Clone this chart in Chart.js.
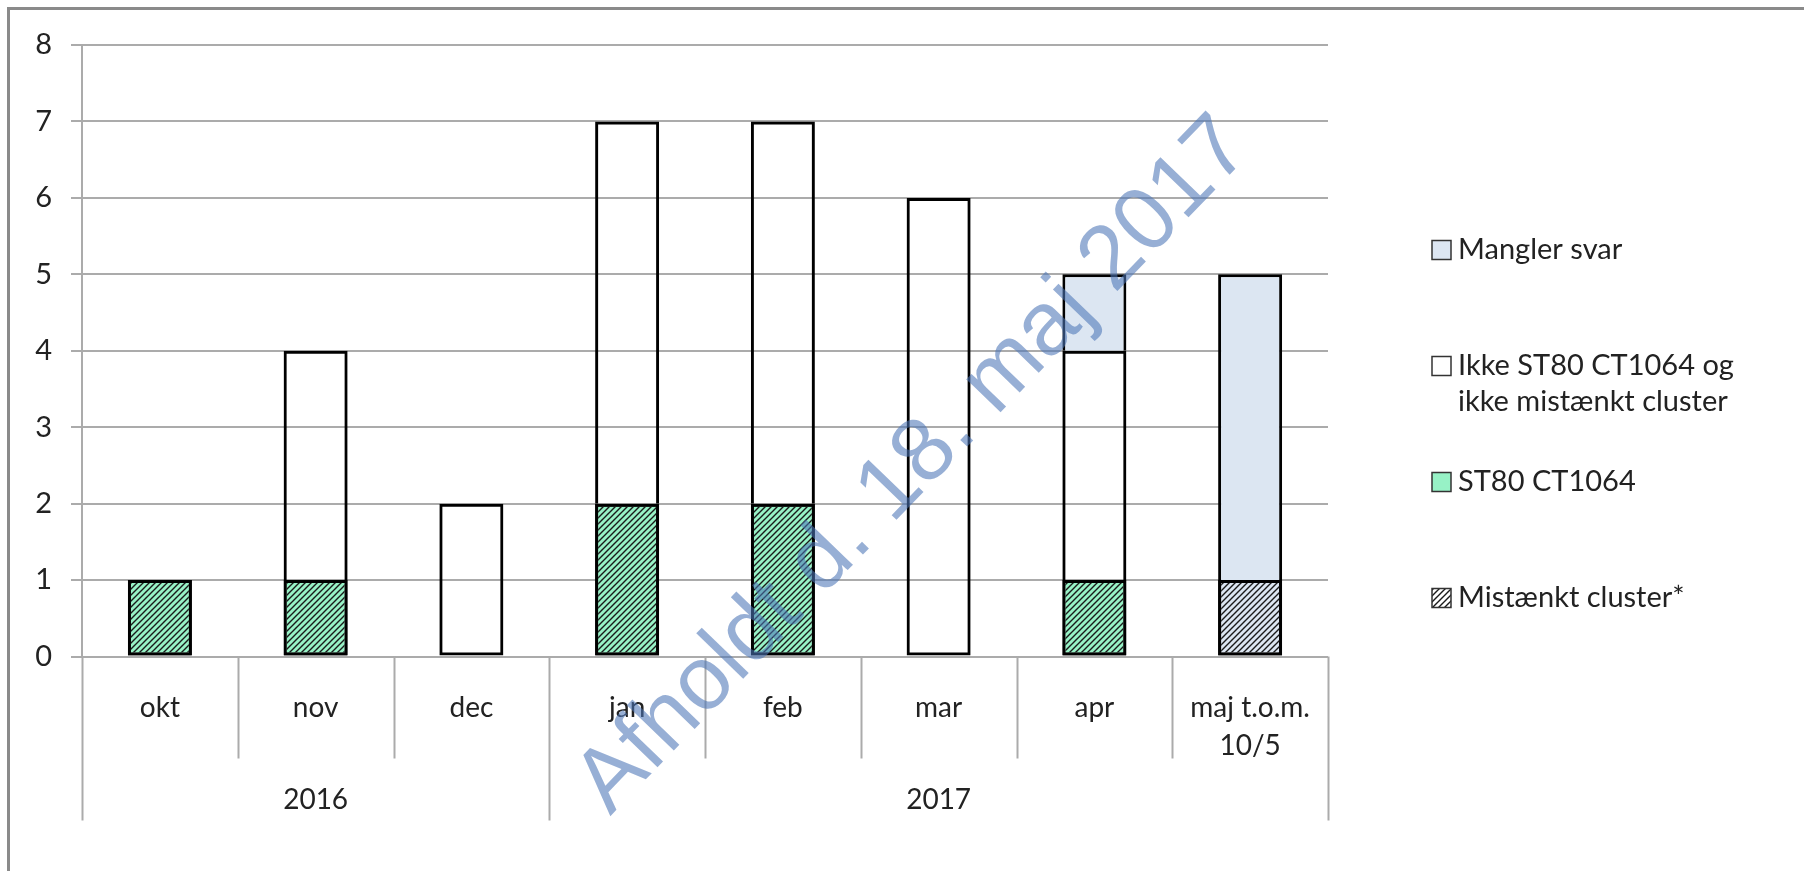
<!DOCTYPE html>
<html>
<head>
<meta charset="utf-8">
<script src="https://cdn.jsdelivr.net/npm/chart.js@4.4.0/dist/chart.umd.min.js"></script>
<style>
  html, body { margin: 0; padding: 0; background: #fff; overflow: hidden; }
  #wrap { width: 1804px; height: 871px; }
</style>
</head>
<body>
<div id="wrap"><canvas id="myChart"></canvas></div>
<script>
// categories
const months = ['okt', 'nov', 'dec', 'jan', 'feb', 'mar', 'apr', ['maj t.o.m.', '10/5']];
const years = ['2016', '2017'];
const monthsPerYear = [3, 5];

// series (antal pr. måned)
const st80 = [1, 1, 0, 2, 2, 0, 1, 0];
const ikkeSt80 = [0, 3, 2, 5, 5, 6, 3, 0];
const manglerSvar = [0, 0, 0, 0, 0, 0, 1, 5];
const mistaenktCluster = [1, 1, 0, 2, 2, 0, 1, 1];

const yMax = 8;
const legendLabels = ['Mangler svar', ['Ikke ST80 CT1064 og', 'ikke mistænkt cluster'], 'ST80 CT1064', 'Mistænkt cluster*'];
const watermarkText = 'Afholdt d. 18. maj 2017';

const GREEN = '#97f2c6';
const LIGHTBLUE = '#dce6f2';
const GRID = '#ababab';

const hatch = (bg) => {
  const s = 6;
  const c = document.createElement('canvas');
  c.width = s;
  c.height = s;
  const g = c.getContext('2d');
  if (bg) {
    g.fillStyle = bg;
    g.fillRect(0, 0, s, s);
  }
  g.strokeStyle = '#1a1a1a';
  g.lineWidth = 1.4;
  g.beginPath();
  g.moveTo(-1, s + 1); g.lineTo(s + 1, -1);
  g.moveTo(-1, 1); g.lineTo(1, -1);
  g.moveTo(s - 1, s + 1); g.lineTo(s + 1, s - 1);
  g.stroke();
  return g.createPattern(c, 'repeat');
};

// no bottom border where a segment sits on top of another one
const skipOnStack = (below) => (ctx) =>
  below.reduce((s, arr) => s + arr[ctx.dataIndex], 0) > 0 ? 'start' : false;

const barCommon = {
  borderColor: '#000',
  borderWidth: 3,
  categoryPercentage: 1,
  barPercentage: 0.411,
};

const decorations = {
  id: 'decorations',
  beforeDraw(chart) {
    const ctx = chart.ctx;
    ctx.save();
    ctx.strokeStyle = '#8a8a8a';
    ctx.lineWidth = 3;
    ctx.beginPath();
    ctx.moveTo(8.5, chart.height);
    ctx.lineTo(8.5, 8.5);
    ctx.lineTo(chart.width, 8.5);
    ctx.stroke();
    ctx.restore();
  },
  afterDraw(chart) {
    const ctx = chart.ctx;
    const x = chart.scales.x;
    const bottom = chart.chartArea.bottom;
    const step = x.getPixelForValue(1) - x.getPixelForValue(0);
    const edge = (i) => x.getPixelForValue(0) - step / 2 + i * step;

    // group boundaries
    const bounds = [0];
    monthsPerYear.forEach((n) => bounds.push(bounds[bounds.length - 1] + n));

    ctx.save();
    ctx.strokeStyle = GRID;
    ctx.lineWidth = 2;
    for (let i = 0; i <= months.length; i++) {
      const px = Math.round(edge(i)) + 0.5;
      const len = bounds.includes(i) ? 164 : 102;
      ctx.beginPath();
      ctx.moveTo(px, bottom);
      ctx.lineTo(px, bottom + len);
      ctx.stroke();
    }

    // year labels
    ctx.fillStyle = '#222';
    ctx.font = '28px Lato';
    ctx.textAlign = 'center';
    ctx.textBaseline = 'middle';
    years.forEach((yr, k) => {
      const cx = (edge(bounds[k]) + edge(bounds[k + 1])) / 2;
      ctx.fillText(yr, cx, bottom + 143.5);
    });

    // legend
    const fills = [LIGHTBLUE, '#fff', GREEN, hatch('#fff')];
    const lx = 1432, tx = 1458;
    ctx.textAlign = 'left';
    ctx.font = '29px Lato';
    legendLabels.forEach((lab, k) => {
      const cy = 250 + k * 116;
      ctx.fillStyle = fills[k];
      ctx.fillRect(lx, cy - 9.5, 19, 19);
      ctx.strokeStyle = '#333';
      ctx.lineWidth = 1.5;
      ctx.strokeRect(lx, cy - 9.5, 19, 19);
      ctx.fillStyle = '#222';
      const lines = Array.isArray(lab) ? lab : [lab];
      lines.forEach((ln, j) => ctx.fillText(ln, tx, cy + j * 36));
    });

    // watermark
    ctx.translate(914, 466);
    ctx.rotate(-46 * Math.PI / 180);
    ctx.font = '90px "Liberation Sans"';
    ctx.fillStyle = 'rgba(75, 118, 182, 0.58)';
    ctx.textAlign = 'center';
    ctx.fillText(watermarkText, 0, 0);
    ctx.restore();
  },
};

Chart.defaults.font.family = 'Lato';
Chart.defaults.color = '#222';

const data = {
  labels: months,
  datasets: [
    {
      label: 'Mistænkt cluster*',
      data: mistaenktCluster,
      backgroundColor: hatch(null),
      stack: 'cluster',
      grouped: false,
      order: 0,
      borderSkipped: false,
      ...barCommon,
    },
    {
      label: 'ST80 CT1064',
      data: st80,
      backgroundColor: GREEN,
      stack: 'main',
      order: 1,
      borderSkipped: false,
      ...barCommon,
    },
    {
      label: 'Ikke ST80 CT1064 og ikke mistænkt cluster',
      data: ikkeSt80,
      backgroundColor: 'rgba(0,0,0,0)',
      stack: 'main',
      order: 1,
      borderSkipped: skipOnStack([st80]),
      ...barCommon,
    },
    {
      label: 'Mangler svar',
      data: manglerSvar,
      backgroundColor: LIGHTBLUE,
      stack: 'main',
      order: 1,
      borderSkipped: skipOnStack([st80, ikkeSt80]),
      ...barCommon,
    },
  ],
};

const config = {
  type: 'bar',
  data: data,
  plugins: [decorations],
  options: {
    responsive: true,
    maintainAspectRatio: false,
    animation: false,
    layout: {
      padding: { top: 45, right: 476, bottom: 0, left: 0 },
    },
    plugins: {
      legend: { display: false },
      tooltip: { enabled: false },
    },
    scales: {
      x: {
        stacked: true,
        grid: { display: false },
        border: { display: false },
        ticks: {
          font: { size: 28, lineHeight: 1.357 },
          padding: 24.5,
          maxRotation: 0,
          autoSkip: false,
        },
        afterFit(scale) {
          scale.height = 871 - 656.5;
        },
      },
      y: {
        stacked: true,
        min: 0,
        max: yMax,
        ticks: {
          stepSize: 1,
          font: { size: 29 },
          padding: 19,
        },
        grid: {
          color: GRID,
          lineWidth: 2,
          tickLength: 11,
        },
        border: { display: true, color: GRID, width: 2 },
        afterFit(scale) {
          scale.width = 82;
        },
      },
    },
  },
};

new Chart(document.getElementById('myChart'), config);
</script>
</body>
</html>
